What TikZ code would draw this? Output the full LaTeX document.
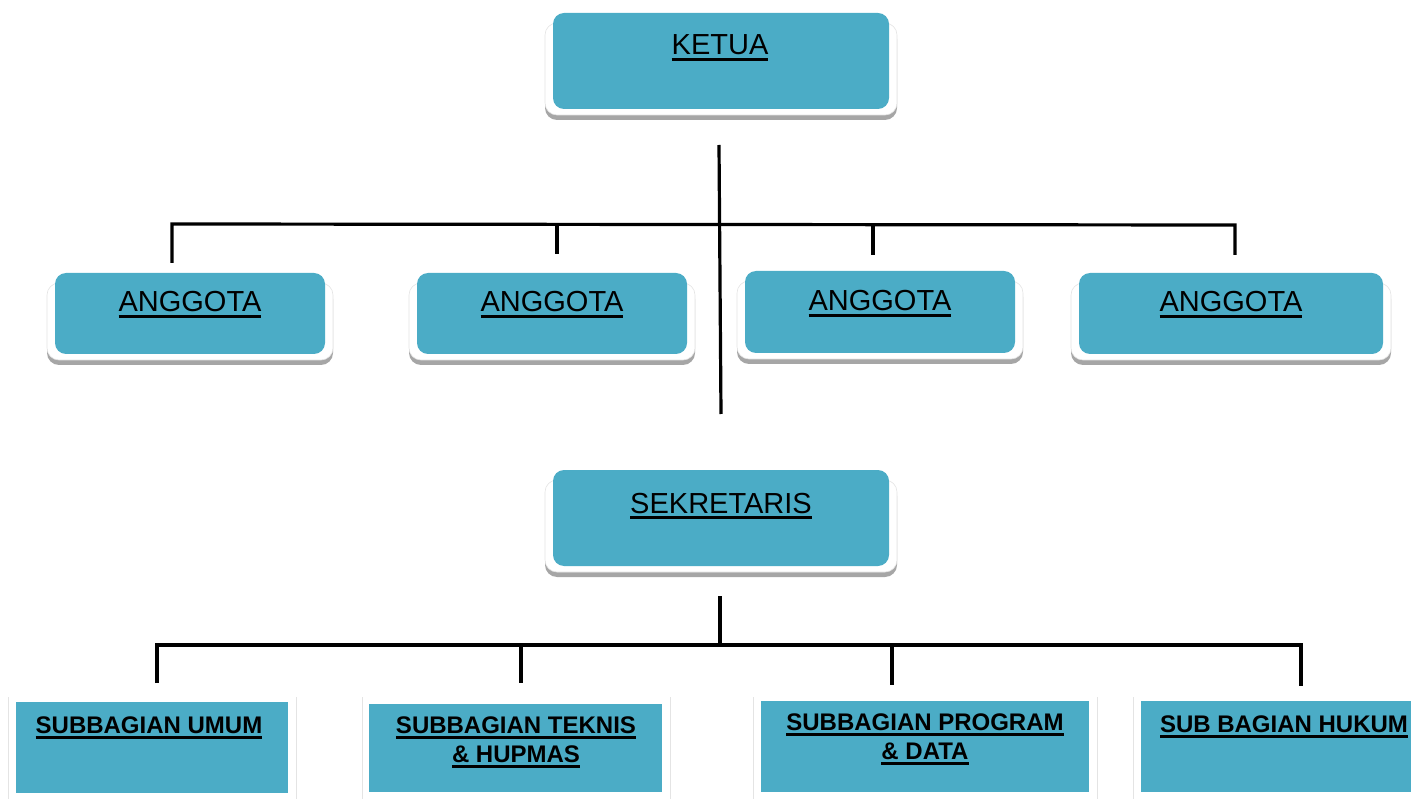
\documentclass[tikz,border=0pt]{standalone}
\usepackage{fontspec}
\setmainfont{Liberation Sans}
\definecolor{boxblue}{HTML}{4BACC6}
\definecolor{shadowgray}{HTML}{A6A6A6}
\definecolor{framegray}{HTML}{E4E4E4}
\newcommand\ulx[1]{\setbox0\hbox{#1}\rlap{\rule[-5.8pt]{\wd0}{2.6pt}}\box0}
\tikzset{
  bluebox/.style={fill=boxblue, draw=none, rounded corners=11pt, inner sep=0pt},
  flatbox/.style={fill=boxblue, draw=none, inner sep=0pt},
  toptxt/.style={font=\fontsize{29}{34}\selectfont, inner sep=0pt, anchor=base},
  bottxt/.style={font=\fontsize{24}{29}\selectfont\bfseries, inner sep=0pt, anchor=base, align=center},
  conn/.style={draw=black, line width=3.2pt},
  sideline/.style={draw=framegray, line width=1pt}
}
% name, x1, y1, x2, y2 of blue box
\newcommand\topbox[5]{%
  \fill[shadowgray, rounded corners=12pt] ({#2-8},{#3+14}) rectangle ({#4+8},{#5+11});
  \filldraw[fill=white, draw=framegray, line width=0.6pt, rounded corners=12pt] ({#2-8},{#3+10}) rectangle ({#4+8},{#5+6});
  \node[bluebox, minimum width={(#4-#2)*1pt}, minimum height={(#5-#3)*1pt}] (#1) at ({(#2+#4)/2},{(#3+#5)/2}) {};
}
% name, x1, y1, x2, y2 of blue box, left line x, right line x
\newcommand\botbox[7]{%
  \draw[sideline] (#6,697) -- (#6,799);
  \draw[sideline] (#7,697) -- (#7,799);
  \node[flatbox, minimum width={(#4-#2)*1pt}, minimum height={(#5-#3)*1pt}] (#1) at ({(#2+#4)/2},{(#3+#5)/2}) {};
}
\begin{document}
\begin{tikzpicture}[x=1pt,y=-1pt]
\useasboundingbox (0,0) rectangle (1411,799);

% top boxes
\topbox{ketua}{553}{13}{889}{109}
\topbox{a1}{55}{273}{325}{354}
\topbox{a2}{417}{273}{687}{354}
\topbox{a3}{745}{271}{1015}{353}
\topbox{a4}{1079}{273}{1383}{354}
\topbox{sek}{553}{470}{889}{566}

\node[toptxt] (ketuaT) at (720,55) {\ulx{KETUA}};
\node[toptxt] (a1T) at (190,312) {\ulx{ANGGOTA}};
\node[toptxt] (a2T) at (552,312) {\ulx{ANGGOTA}};
\node[toptxt] (a3T) at (880,311) {\ulx{ANGGOTA}};
\node[toptxt] (a4T) at (1231,312) {\ulx{ANGGOTA}};
\node[toptxt] (sekT) at (721,513) {\ulx{SEKRETARIS}};

% bottom boxes
\botbox{b1}{16}{702}{288}{793}{8}{296}
\botbox{b2}{369}{704}{662}{792}{362}{670}
\botbox{b3}{761}{701}{1089}{792}{753}{1097}
\botbox{b4}{1141}{701}{1411}{792}{1133}{1133}

\node[bottxt] (b1T) at (149,733) {\ulx{SUBBAGIAN UMUM}};
\node[bottxt] (b2T) at (516,762) {\ulx{SUBBAGIAN TEKNIS}\\\ulx{\& HUPMAS}};
\node[bottxt] (b3T) at (925,759) {\ulx{SUBBAGIAN PROGRAM}\\\ulx{\& DATA}};
\node[bottxt] (b4T) at (1284,732) {\ulx{SUB BAGIAN HUKUM}};

% top connectors
\coordinate (kTop) at (719,145);
\coordinate (kBot) at (721,414);
\coordinate (barL) at (172,224);
\coordinate (barR) at (1235,225);
\coordinate (d1) at (172,263);
\coordinate (d2t) at (557,224);
\coordinate (d2) at (557,254);
\coordinate (d3t) at (873,224.5);
\coordinate (d3) at (873,255);
\coordinate (d4) at (1235,255);
\draw[conn] (kTop) -- (kBot);
\draw[conn] (d1) -- (barL) -- (barR) -- (d4);
\draw[conn] (d2t) -- (d2);
\draw[conn] (d3t) -- (d3);

% bottom connectors
\coordinate (sTop) at (720,596);
\coordinate (sBar) at (720,645);
\coordinate (bbL) at (157,645);
\coordinate (bbR) at (1301,645);
\coordinate (e1) at (157,683);
\coordinate (e2t) at (521,645);
\coordinate (e2) at (521,683);
\coordinate (e3t) at (892,645);
\coordinate (e3) at (892,685);
\coordinate (e4) at (1301,686);
\draw[conn] (sTop) -- (sBar);
\draw[conn] (e1) -- (bbL) -- (bbR) -- (e4);
\draw[conn] (e2t) -- (e2);
\draw[conn] (e3t) -- (e3);
\end{tikzpicture}
\end{document}
